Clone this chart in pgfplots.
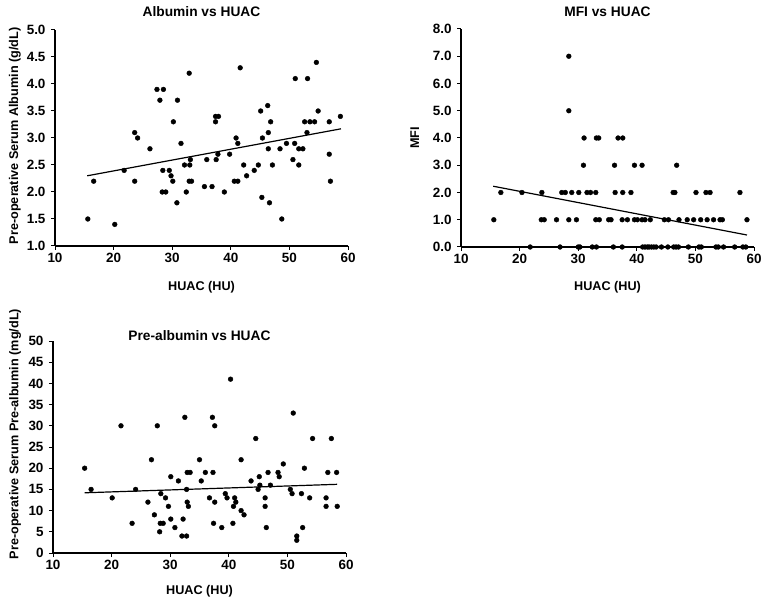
\documentclass[border=0pt]{standalone}
\usepackage{fontspec}
\setmainfont{Liberation Sans}
\usepackage{pgfplots}
\pgfplotsset{compat=1.18}

\pgfplotsset{
  panel/.style={
    scale only axis,
    width=293bp,
    axis lines=left,
    axis line style={-, line width=1.1bp},
    tick style={black, line width=1bp},
    tick align=outside,
    major tick length=4bp,
    xmin=10, xmax=60, xtick={10,20,...,60},
    font=\fontsize{12.7}{15}\selectfont\bfseries,
    tick label style={font=\fontsize{13.5}{16}\selectfont\bfseries},
    yticklabel style={xshift=-2bp},
    /pgf/number format/assume math mode=true,
    title style={font=\fontsize{13.8}{16}\selectfont\bfseries, at={(axis description cs:0.5,1)}, anchor=base},
    xlabel={HUAC (HU)},
    clip=false,
  },
  dots/.style={only marks, mark=*, mark size=2.4bp, black},
  fit/.style={black, line width=1.2bp, no marks},
  onedec/.style={yticklabel style={/pgf/number format/.cd, fixed, fixed zerofill, precision=1}},
}

\begin{document}
\begin{tikzpicture}
\useasboundingbox (0bp,0bp) rectangle (770bp,604bp);

% Albumin vs HUAC
\begin{axis}[panel, onedec, at={(55bp,358bp)}, anchor=south west, height=216bp,
  ymin=1, ymax=5, ytick={1,1.5,...,5},
  title={Albumin vs HUAC}, title style={yshift=7.5bp},
  ylabel={Pre-operative Serum Albumin (g/dL)},
  every axis y label/.style={at={(axis description cs:-0.1365,0.51)}, anchor=center, rotate=90},
  every axis x label/.style={at={(axis description cs:0.5,-0.206)}, anchor=base},
]
\addplot[dots] coordinates {
(15.6,1.5) (16.6,2.2) (20.2,1.4) (21.8,2.4) (23.6,3.1) (23.6,2.2) (24.1,3.0) (26.2,2.8)
(27.4,3.9) (28.5,3.9) (27.9,3.7) (28.4,2.4) (28.3,2.0) (28.9,2.0) (29.5,2.4) (29.8,2.3)
(30.1,2.2) (30.2,3.3) (30.9,3.7) (31.5,2.9) (30.8,1.8) (32.1,2.5) (32.4,2.0) (32.9,4.2)
(33.0,2.5) (33.1,2.6) (32.9,2.2) (33.3,2.2) (35.5,2.1) (35.9,2.6) (36.8,2.1) (37.4,3.3)
(37.4,3.4) (37.9,3.4) (37.5,2.6) (37.8,2.7) (38.9,2.0) (39.8,2.7) (40.6,2.2) (41.2,2.2)
(40.9,3.0) (41.2,2.9) (41.6,4.3) (42.2,2.5) (42.7,2.3) (44.0,2.4) (44.7,2.5) (45.1,3.5)
(45.4,3.0) (45.3,1.9) (46.3,3.6) (46.4,3.1) (46.4,2.8) (46.6,1.8) (46.8,3.3) (47.1,2.5)
(48.4,2.8) (48.7,1.5) (49.5,2.9) (50.6,2.6) (50.9,2.9) (51.0,4.1) (51.6,2.8) (51.6,2.5)
(52.3,2.8) (52.6,3.3) (53.0,3.1) (53.1,4.1) (53.5,3.3) (54.3,3.3) (54.6,4.4) (54.9,3.5)
(56.8,3.3) (56.8,2.7) (57.0,2.2) (58.7,3.4)
};
\addplot[fit] coordinates {(15.5,2.3) (58.8,3.17)};
\end{axis}

% MFI vs HUAC
\begin{axis}[panel, onedec, at={(461bp,357bp)}, anchor=south west, height=218bp,
  ymin=0, ymax=8, ytick={0,1,...,8},
  title={MFI vs HUAC}, title style={yshift=6.8bp},
  ylabel={MFI},
  every axis y label/.style={at={(axis description cs:-0.1575,0.5)}, anchor=center, rotate=90},
  every axis x label/.style={at={(axis description cs:0.5,-0.2)}, anchor=base},
]
\addplot[dots] coordinates {
(28.4,7) (28.4,5)
(31.0,4) (33.1,4) (33.5,4) (36.8,4) (37.6,4)
(30.9,3) (36.2,3) (39.6,3) (40.9,3) (46.8,3)
(16.8,2) (20.4,2) (23.8,2) (27.2,2) (27.8,2) (28.9,2) (30.1,2) (31.5,2) (32.1,2) (33.0,2)
(36.3,2) (37.6,2) (39.0,2) (46.2,2) (46.5,2) (50.1,2) (51.8,2) (52.5,2) (57.6,2)
(15.6,1) (23.7,1) (24.2,1) (26.3,1) (28.4,1) (29.7,1) (33.0,1) (33.6,1) (35.2,1) (35.6,1)
(37.5,1) (38.4,1) (39.6,1) (40.1,1) (40.9,1) (41.4,1) (42.3,1) (44.7,1) (45.4,1) (47.2,1)
(48.6,1) (49.7,1) (50.9,1) (52.0,1) (53.1,1) (54.2,1) (54.6,1) (58.8,1)
(21.8,0) (26.9,0) (30.0,0) (30.3,0) (32.4,0) (33.1,0) (36.0,0) (37.5,0) (41.0,0) (41.4,0)
(41.8,0) (42.1,0) (42.5,0) (42.9,0) (43.3,0) (44.2,0) (45.3,0) (46.3,0) (46.7,0) (47.1,0)
(48.8,0) (50.6,0) (51.0,0) (53.5,0) (53.9,0) (54.8,0) (56.7,0) (58.1,0) (58.6,0)
};
\addplot[fit] coordinates {(15.5,2.23) (58.8,0.44)};
\end{axis}

% Pre-albumin vs HUAC
\begin{axis}[panel, at={(53bp,51bp)}, anchor=south west, height=212bp,
  ymin=0, ymax=50, ytick={0,5,...,50},
  title={Pre-albumin vs HUAC}, title style={yshift=-5.5bp},
  ylabel={Pre-operative Serum Pre-albumin (mg/dL)},
  every axis y label/.style={at={(axis description cs:-0.129,0.561)}, anchor=center, rotate=90},
  every axis x label/.style={at={(axis description cs:0.5,-0.196)}, anchor=base},
]
\addplot[dots] coordinates {
(15.4,20) (16.5,15) (20.1,13) (21.6,30) (23.5,7) (24.1,15) (26.2,12) (26.8,22) (27.3,9)
(27.8,30) (28.2,5) (28.4,14) (28.3,7) (28.8,7) (29.2,13) (29.7,11) (30.1,18) (30.1,8)
(30.8,6) (31.4,17) (32.0,4) (32.2,8) (32.5,32) (32.8,15) (32.8,4) (32.9,12) (33.1,11)
(32.9,19) (33.4,19) (35.0,22) (35.3,17) (36.0,19) (36.7,13) (37.2,32) (37.3,19) (37.4,7)
(37.6,30) (37.6,12) (38.8,6) (39.4,14) (39.7,13) (40.3,41) (40.7,7) (40.8,11) (41.0,13)
(41.2,12) (42.1,22) (42.1,10) (42.6,9) (43.8,17) (44.6,27) (45.0,15) (45.2,18) (45.3,16)
(46.2,13) (46.2,11) (46.4,6) (46.7,19) (47.1,16) (48.4,19) (48.6,18) (49.3,21) (50.5,15)
(50.8,14) (51.0,33) (51.6,4) (51.6,3) (52.4,14) (52.6,6) (52.9,20) (53.8,13) (54.3,27)
(56.6,13) (56.6,11) (56.9,19) (57.5,27) (58.4,19) (58.5,11)
};
\addplot[fit] coordinates {(15.4,14.2) (58.5,16.2)};
\end{axis}
\end{tikzpicture}
\end{document}
